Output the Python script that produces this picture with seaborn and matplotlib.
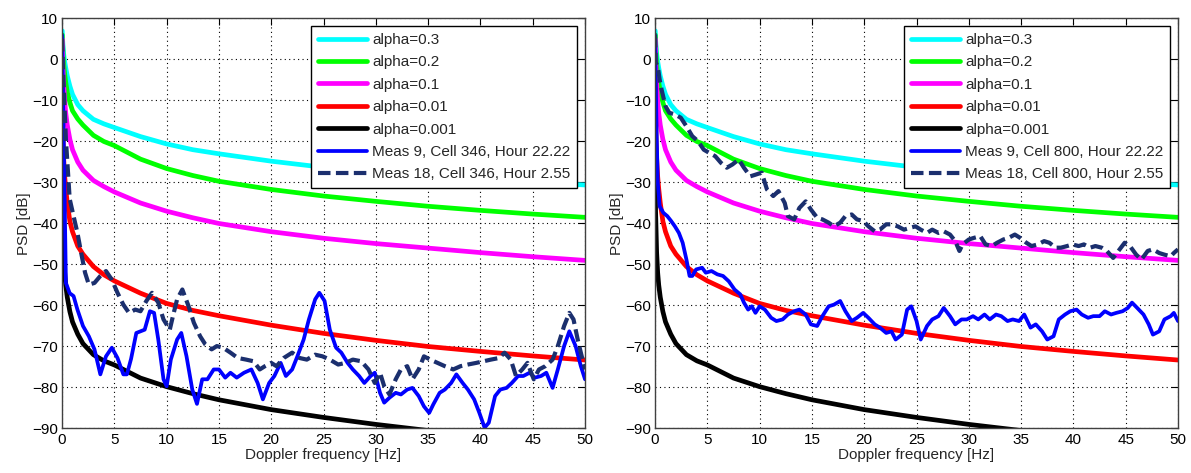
import numpy as np
import pandas as pd
import matplotlib
matplotlib.use("Agg")
import matplotlib.pyplot as plt
import seaborn as sns

# ---------------- data ----------------
f_theory = [0.02, 0.05, 0.1, 0.15, 0.25, 0.35, 0.5, 0.75, 1.0, 1.5, 2.0, 3.0, 4.0, 5.0, 7.5,
            10, 12.5, 15, 20, 25, 30, 35, 40, 45, 50]
alpha_03 = [7, 5, 3, 1.5, -0.5, -2, -4, -6.5, -8.5, -11, -12.5, -14.6, -15.7, -16.6, -18.8,
            -20.6, -22, -23, -24.8, -26.3, -27.5, -28.5, -29.3, -30, -30.6]
alpha_02 = [6, 4, 1, -1, -3.5, -5.5, -8, -10.5, -12.5, -14.5, -16, -18.5, -20, -21, -24.3,
            -26.6, -28.3, -29.7, -31.7, -33.3, -34.6, -35.8, -36.8, -37.7, -38.5]
alpha_01 = [5, 1, -3, -6, -10, -13, -16, -19.5, -22, -25, -27, -29.5, -31, -32.3, -35,
            -37, -38.6, -40, -42, -43.6, -44.9, -46, -47.1, -48.1, -49]
alpha_001 = [-5, -13, -20, -24, -28.5, -31.5, -35, -39.5, -42, -45.5, -47.5, -50.5, -52.5, -54, -57,
             -59.5, -61.2, -62.5, -64.8, -66.8, -68.5, -70, -71.2, -72.3, -73.3]
alpha_0001 = [-30, -37, -42, -47, -52, -55, -58, -61.5, -64, -67, -69.3, -72, -73.5, -74.5, -77.7,
              -79.8, -81.5, -83, -85.4, -87.3, -89, -90.5, -91.8, -93, -94]

theory_labels = ["alpha=0.3", "alpha=0.2", "alpha=0.1", "alpha=0.01", "alpha=0.001"]
theory_values = [alpha_03, alpha_02, alpha_01, alpha_001, alpha_0001]
theory_colors = ["#00FFFF", "#00FF00", "#FF00FF", "#FF0000", "#000000"]

# Left panel: Cell 346
f_m9_346 = [0.0, 0.2, 0.37, 0.73, 1.1, 1.47, 2.0, 2.56, 3.1, 3.66, 4.2, 4.76, 5.3, 5.86, 6.2, 6.6,
            7.1, 7.9, 8.4, 8.8, 9.2, 9.7, 10.0, 10.4, 11.0, 11.4, 11.9, 12.45, 12.9, 13.4, 13.9,
            14.5, 15.0, 15.6, 16.1, 16.7, 17.4, 18.1, 18.7, 19.2, 19.8, 20.3, 20.9, 21.4, 22.0,
            22.5, 23.1, 23.6, 24.2, 24.6, 25.1, 25.6, 26.2, 26.7, 27.3, 27.8, 28.4, 28.9, 29.5,
            29.9, 30.4, 30.8, 31.3, 31.9, 32.4, 33.0, 33.5, 34.1, 34.6, 35.1, 35.5, 36.1, 36.6,
            37.2, 37.7, 38.3, 38.8, 39.4, 39.9, 40.4, 40.8, 41.4, 41.9, 42.5, 43.0, 43.6, 44.1,
            44.7, 45.2, 45.8, 46.3, 46.9, 47.4, 48.0, 48.5, 49.1, 49.6, 50.0]
psd_m9_346 = [6, -26, -54.5, -57, -57.7, -61, -65, -67.5, -70.7, -76.8, -72.4, -70.3, -72.8, -76.8,
              -76.8, -73, -66.7, -65.9, -61.4, -61.8, -68.3, -78, -79.7, -73.2, -68.3, -66.7,
              -72.4, -80.5, -84, -78, -78, -75.6, -75.6, -77.6, -76.4, -77.6, -76.4, -75.6, -78.9,
              -82.9, -78.9, -77.2, -74, -77.2, -75.6, -72.4, -68.3, -63.4, -58.5, -56.9, -58.9,
              -65.9, -70.3, -71.5, -74, -75.6, -77.2, -78.9, -77.2, -76.4, -81.3, -83.7, -82.5,
              -81.3, -81.7, -80.5, -80.1, -82.1, -84.6, -86.2, -84.1, -81.3, -80.5, -78.9, -76.8,
              -78.9, -80.5, -82.9, -86.2, -89.8, -88.6, -82.1, -80.5, -80.1, -78.9, -77.2, -77.2,
              -76.4, -77.6, -77.2, -76.4, -80.1, -75.6, -69.9, -66.3, -69.9, -74.8, -78]

f_m18_346 = [0.0, 0.1, 0.37, 0.73, 1.1, 1.47, 1.83, 2.2, 2.56, 3.1, 3.66, 4.2, 4.76, 5.3, 5.86,
             6.4, 7.0, 7.5, 8.06, 8.6, 9.2, 9.7, 10.3, 10.6, 11.0, 11.5, 12.1, 12.6, 13.2, 13.7,
             14.3, 14.8, 15.4, 16.1, 16.8, 17.6, 18.3, 18.9, 19.4, 20.0, 20.5, 21.2, 22.0, 22.7,
             23.4, 24.2, 24.9, 25.6, 26.4, 27.1, 27.8, 28.6, 29.3, 29.9, 30.4, 30.8, 31.3, 31.9,
             32.4, 33.0, 33.5, 34.1, 34.6, 35.2, 35.9, 36.6, 37.4, 38.1, 38.8, 39.6, 40.3, 41.0,
             41.8, 42.3, 42.9, 43.4, 44.0, 44.5, 45.1, 45.6, 46.2, 46.9, 47.4, 48.0, 48.5, 48.9,
             49.3, 49.6, 50.0]
psd_m18_346 = [5, -3, -19.5, -34, -38.2, -42.3, -47.2, -52, -54.9, -54.5, -52.8, -51.6, -53.7,
               -56.9, -59.8, -61.8, -61, -61.4, -58.9, -56.9, -59.3, -63.4, -65.9, -62.6, -58.5,
               -56.1, -60.2, -64.2, -67.5, -69.5, -70.7, -69.9, -70.3, -71.5, -72.8, -73.2, -73.6,
               -75.6, -74.8, -74, -74.8, -72.8, -71.5, -72.8, -73.2, -72, -72.4, -73.2, -74.4,
               -74, -73.2, -73.6, -75.6, -78.9, -76.4, -79.7, -81.7, -78, -75.6, -74.8, -78,
               -75.6, -72.4, -73.2, -74, -74.8, -75.6, -74.8, -74.4, -74, -73.6, -73.2, -72.8,
               -71.5, -73.2, -77.2, -75.6, -74, -78, -75.6, -74.8, -73.2, -69.9, -65, -61.8,
               -63.4, -68.3, -71.5, -75.6]

# Right panel: Cell 800
f_m9_800 = [0.0, 0.15, 0.26, 0.44, 0.8, 1.17, 1.54, 1.9, 2.28, 2.64, 3.0, 3.3, 3.56, 3.93, 4.5,
            4.85, 5.4, 5.95, 6.5, 7.05, 7.6, 8.15, 8.5, 8.9, 9.25, 9.6, 10.0, 10.5, 11.1, 11.6,
            12.2, 12.7, 13.3, 13.8, 14.4, 14.9, 15.5, 16.0, 16.6, 17.1, 17.7, 18.2, 18.8, 19.3,
            19.9, 20.4, 21.0, 21.5, 22.1, 22.6, 23.0, 23.6, 24.1, 24.5, 25.0, 25.4, 26.0, 26.5,
            27.1, 27.6, 28.2, 28.7, 29.3, 29.8, 30.4, 30.9, 31.5, 32.0, 32.6, 33.1, 33.7, 34.2,
            34.8, 35.3, 35.9, 36.4, 37.0, 37.5, 38.1, 38.6, 39.2, 39.7, 40.3, 40.8, 41.4, 41.9,
            42.5, 43.0, 43.6, 44.1, 44.7, 45.2, 45.6, 46.1, 46.7, 47.2, 47.6, 48.2, 48.7, 49.3,
            49.6, 50.0]
psd_m9_800 = [6, -17.9, -30, -35.8, -37.4, -38.2, -39.4, -40.7, -42.3, -44.7, -48.8, -52.8, -52.8,
              -51.2, -50.8, -52, -51.6, -52.4, -52.8, -54.1, -56.1, -57.3, -59.3, -61, -60.2,
              -61.8, -60.2, -61, -63, -63.8, -63.4, -62.2, -61.4, -61, -62.2, -64.6, -65, -62.6,
              -60.2, -59.8, -58.9, -61.4, -63.8, -63, -61.8, -63, -64.6, -65.4, -66.7, -66.3,
              -68.3, -67.1, -61, -60.2, -63.8, -68.3, -65, -63.4, -62.6, -60.6, -62.6, -64.6,
              -63.4, -63.4, -62.6, -63.4, -62.2, -63.4, -62.2, -62.6, -63.8, -63.4, -63.8, -62.2,
              -65.4, -64.6, -66.3, -68.3, -67.5, -63.4, -62.2, -61.4, -61, -62.2, -63, -62.6,
              -62.6, -61.4, -62.2, -61.8, -61.4, -60.6, -59.3, -60.6, -62.2, -64.6, -67.1, -66.3,
              -63.4, -62.6, -61.8, -63.8]

f_m18_800 = [0.0, 0.07, 0.26, 0.44, 0.62, 1.0, 1.36, 1.9, 2.46, 3.0, 3.56, 4.1, 4.66, 5.2, 5.76,
             6.3, 6.86, 7.4, 8.0, 8.5, 9.1, 9.6, 10.2, 10.7, 11.3, 11.8, 12.4, 12.7, 13.3, 13.8,
             14.4, 14.9, 15.5, 16.0, 16.6, 17.1, 17.7, 18.2, 18.8, 19.3, 19.9, 20.4, 21.0, 21.5,
             22.1, 22.6, 23.2, 23.8, 24.3, 24.9, 25.4, 26.0, 26.5, 27.1, 27.6, 28.2, 28.7, 29.1,
             29.4, 30.0, 30.5, 31.1, 31.6, 32.2, 32.7, 33.3, 33.8, 34.4, 34.9, 35.5, 36.0, 36.6,
             37.2, 37.7, 38.3, 38.8, 39.4, 39.9, 40.5, 41.0, 41.6, 42.1, 42.7, 43.2, 43.8, 44.3,
             44.9, 45.4, 46.0, 46.5, 47.1, 47.6, 48.2, 48.7, 49.3, 49.6, 50.0]
psd_m18_800 = [6, -0.8, -1.6, -4.9, -7.3, -11.4, -13, -13.4, -14.2, -16.3, -18.7, -19.9, -22,
               -22.8, -23.6, -25.2, -26.4, -25.6, -24.4, -26.4, -28.5, -28.1, -27.6, -31.7, -33.3,
               -32.1, -35, -38.2, -39, -36.2, -34.6, -36.6, -38.6, -39, -39.8, -40.7, -39.8, -38.2,
               -37.8, -39, -39.4, -40.7, -41.9, -41.5, -40.2, -40.2, -40.7, -41.5, -41.1, -40.7,
               -41.5, -42.3, -41.5, -42.3, -41.9, -42.7, -44.3, -46.7, -45.1, -43.9, -43.5, -43.1,
               -45.1, -45.5, -44.7, -43.9, -43.5, -42.7, -43.5, -44.7, -45.5, -45.1, -44.3, -44.7,
               -45.9, -45.9, -45.5, -45.1, -45.5, -45.1, -45.9, -45.5, -45.9, -46.7, -48.4, -46.7,
               -44.7, -45.5, -47.6, -48.8, -46.7, -46.3, -47.2, -47.6, -48, -47.2, -46.3]

x_ticks = [0, 5, 10, 15, 20, 25, 30, 35, 40, 45, 50]
y_ticks = [-90, -80, -70, -60, -50, -40, -30, -20, -10, 0, 10]

panels = [
    (f_m9_346, psd_m9_346, "Meas 9, Cell 346, Hour 22.22",
     f_m18_346, psd_m18_346, "Meas 18, Cell 346, Hour 2.55"),
    (f_m9_800, psd_m9_800, "Meas 9, Cell 800, Hour 22.22",
     f_m18_800, psd_m18_800, "Meas 18, Cell 800, Hour 2.55"),
]

# ---------------- plot ----------------
sns.set_style("white")
plt.rcParams["font.family"] = ["Liberation Sans", "DejaVu Sans"]
plt.rcParams["font.size"] = 11

fig = plt.figure(figsize=(11.91, 4.73), dpi=100)
axes_pos = [[0.0521, 0.0941, 0.4391, 0.8668], [0.5500, 0.0941, 0.4391, 0.8668]]

for pos, (fa, pa, la, fb, pb, lb) in zip(axes_pos, panels):
    ax = fig.add_axes(pos)
    for lab, vals, col in zip(theory_labels, theory_values, theory_colors):
        df = pd.DataFrame({"f": f_theory, "psd": vals})
        sns.lineplot(data=df, x="f", y="psd", ax=ax, color=col, lw=3.4,
                     label=lab, estimator=None, sort=False)
    dfa = pd.DataFrame({"f": fa, "psd": pa})
    sns.lineplot(data=dfa, x="f", y="psd", ax=ax, color="#0000FF", lw=2.7,
                 label=la, estimator=None, sort=False)
    dfb = pd.DataFrame({"f": fb, "psd": pb})
    sns.lineplot(data=dfb, x="f", y="psd", ax=ax, color="#1B2F6E", lw=3.0,
                 label=lb, estimator=None, sort=False, linestyle=(0, (3, 1.3)))

    ax.set_xlim(0, 50)
    ax.set_ylim(-90, 10)
    ax.set_xticks(x_ticks)
    ax.set_yticks(y_ticks)
    ax.grid(True, linestyle=(0, (1, 3)), color="black", linewidth=0.8)
    ax.tick_params(direction="in", top=True, right=True, length=5, width=0.8,
                   labelsize=11, colors="black", pad=3)
    for s in ax.spines.values():
        s.set_color("#404040")
        s.set_linewidth(1.0)
    ax.set_xlabel("Doppler frequency [Hz]", fontsize=11, labelpad=1)
    ax.set_ylabel("PSD [dB]", fontsize=11, labelpad=1)
    leg = ax.legend(loc="upper right", fontsize=11, frameon=True, fancybox=False,
                    framealpha=1, edgecolor="black", handlelength=3.2,
                    borderaxespad=0.5, labelspacing=0.55, handletextpad=0.33,
                    borderpad=0.45)
    leg.get_frame().set_linewidth(1.0)

fig.savefig("out.png", dpi=100)
